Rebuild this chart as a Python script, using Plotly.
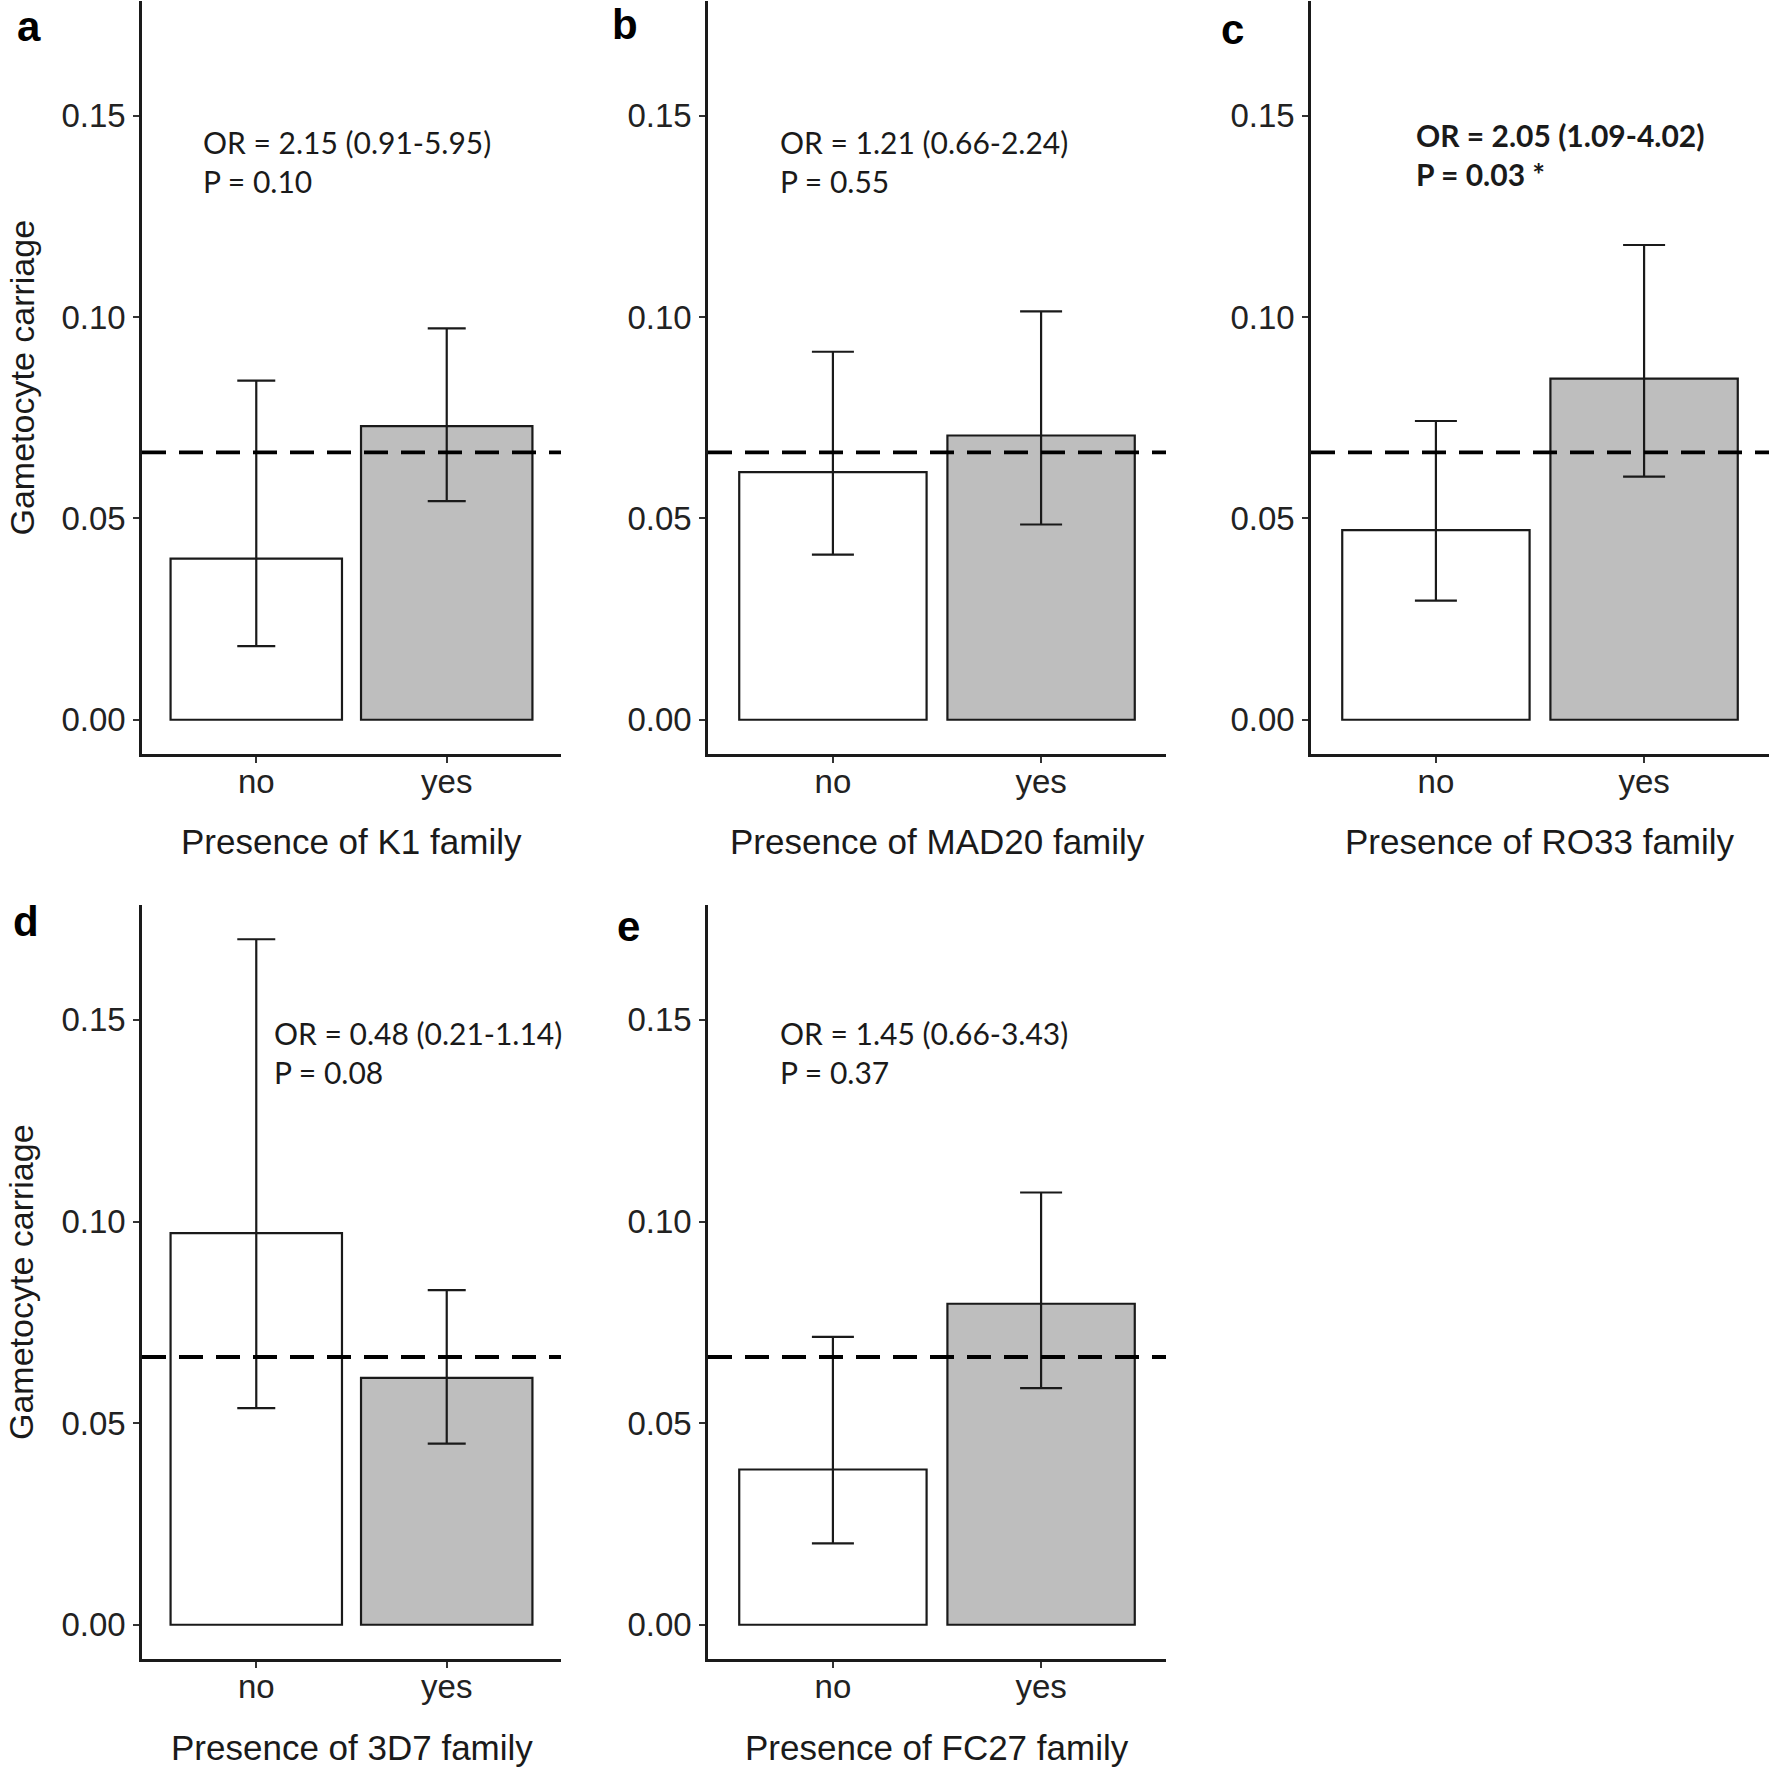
import plotly.graph_objects as go

# ---------------- data ----------------
families = ["K1", "MAD20", "RO33", "3D7", "FC27"]
panel_labels = ["a", "b", "c", "d", "e"]
categories = ["no", "yes"]
mean_no = [0.0400, 0.0615, 0.0471, 0.0971, 0.0385]
mean_yes = [0.0729, 0.0706, 0.0847, 0.0612, 0.0796]
upper_no = [0.0842, 0.0914, 0.0742, 0.1700, 0.0714]
lower_no = [0.0183, 0.0410, 0.0296, 0.0537, 0.0202]
upper_yes = [0.0972, 0.1014, 0.1179, 0.0830, 0.1072]
lower_yes = [0.0543, 0.0485, 0.0604, 0.0449, 0.0587]
overall_rate = 0.0664
or_text = ["OR = 2.15 (0.91-5.95)", "OR = 1.21 (0.66-2.24)", "OR = 2.05 (1.09-4.02)",
           "OR = 0.48 (0.21-1.14)", "OR = 1.45 (0.66-3.43)"]
p_text = ["P = 0.10", "P = 0.55", "P = 0.03 *", "P = 0.08", "P = 0.37"]
significant = [False, False, True, False, False]
# annotation anchor (data coords: category index, value)
ann_x = [-0.29, -0.264, -0.105, 0.082, -0.264]
ann_y = [0.1386, 0.1386, 0.1403, 0.1420, 0.1420]
y_ticks = [0.0, 0.05, 0.10, 0.15]
y_ticktext = ["0.00", "0.05", "0.10", "0.15"]
y_range = [-0.0085, 0.1785]

# ---------------- layout geometry (screen pixels) ----------------
W, H = 1770, 1772
px_x = [(142, 561), (708, 1166), (1311, 1769), (142, 561), (708, 1166)]
px_y = [(1, 754), (1, 754), (1, 754), (905, 1659), (905, 1659)]
cap_px = [19, 21, 21, 19, 21]
label_pos = [(29, 26), (625, 25), (1232, 29), (26, 921), (628, 926)]

def fx(p):
    return min(max(p / W, 0), 1)

def fy(p):
    return min(max(1 - p / H, 0), 1)

FONT = "Liberation Sans, Arial, sans-serif"
ANN_FONT = "Lato, Open Sans, sans-serif"
LINE = "#1a1a1a"
TICKC = "#222222"

fig = go.Figure()
annotations = []
shapes = []

for i, fam in enumerate(families):
    ax = "" if i == 0 else str(i + 1)
    xa, ya = "x" + ax, "y" + ax
    means = [mean_no[i], mean_yes[i]]
    ups = [upper_no[i] - mean_no[i], upper_yes[i] - mean_yes[i]]
    downs = [mean_no[i] - lower_no[i], mean_yes[i] - lower_yes[i]]
    fig.add_trace(go.Bar(
        x=categories, y=means, width=0.9, xaxis=xa, yaxis=ya,
        marker=dict(color=["#ffffff", "#bebebe"], line=dict(color=LINE, width=2.2)),
        error_y=dict(type="data", symmetric=False, array=ups, arrayminus=downs,
                     color=LINE, thickness=2.2, width=cap_px[i]),
        showlegend=False, hoverinfo="skip",
    ))
    x0, x1 = px_x[i]
    y0, y1 = px_y[i]
    fig.layout["xaxis" + ax] = dict(
        domain=[fx(x0), fx(x1)], anchor=ya, type="category",
        range=[-0.6, 1.6], showline=True, linecolor=LINE, linewidth=2.5,
        ticks="outside", ticklen=6, tickwidth=2, tickcolor="#333333",
        ticklabelstandoff=-9,
        tickfont=dict(family=FONT, size=33, color=TICKC),
        showgrid=False, zeroline=False, fixedrange=True,
    )
    fig.layout["yaxis" + ax] = dict(
        domain=[fy(y1), fy(y0)], anchor=xa, range=y_range,
        tickvals=y_ticks, ticktext=y_ticktext,
        showline=True, linecolor=LINE, linewidth=2.5,
        ticks="outside", ticklen=6, tickwidth=2, tickcolor="#333333",
        ticklabelstandoff=1,
        tickfont=dict(family=FONT, size=33, color=TICKC),
        showgrid=False, zeroline=False, fixedrange=True,
    )
    # overall dashed reference line
    shapes.append(dict(type="line", xref=xa + " domain", yref=ya,
                       x0=0, x1=1, y0=overall_rate, y1=overall_rate,
                       line=dict(color="#000000", width=3.8, dash="24px,13px"),
                       layer="above"))
    # OR / P annotation
    txt = or_text[i] + "<br>" + p_text[i]
    if significant[i]:
        txt = "<b>" + or_text[i] + "</b><br><b>" + p_text[i] + "</b>"
    annotations.append(dict(xref=xa, yref=ya, x=ann_x[i], y=ann_y[i], text=txt,
                            showarrow=False, xanchor="left", yanchor="middle", align="left",
                            font=dict(family=ANN_FONT, size=30, color="#1a1a1a")))
    # x-axis title
    annotations.append(dict(xref="paper", yref="paper", x=fx((x0 + x1) / 2), y=fy(y1 + 88),
                            text="Presence of " + fam + " family", showarrow=False,
                            xanchor="center", yanchor="middle",
                            font=dict(family=FONT, size=35, color="#1a1a1a")))
    # panel label
    lx, ly = label_pos[i]
    annotations.append(dict(xref="paper", yref="paper", x=fx(lx), y=fy(ly),
                            text="<b>" + panel_labels[i] + "</b>", showarrow=False,
                            xanchor="center", yanchor="middle",
                            font=dict(family=FONT, size=42, color="#000000")))
    # y-axis title for left column
    if x0 == 142:
        annotations.append(dict(xref="paper", yref="paper", x=fx(21), y=fy((y0 + y1) / 2),
                                text="Gametocyte carriage", textangle=-90, showarrow=False,
                                xanchor="center", yanchor="middle", borderpad=0,
                                font=dict(family=FONT, size=34, color="#1a1a1a")))

fig.update_layout(
    width=W, height=H, margin=dict(l=0, r=0, t=0, b=0),
    paper_bgcolor="white", plot_bgcolor="white",
    annotations=annotations, shapes=shapes, showlegend=False,
)

fig.write_html("out.html", config={"displayModeBar": False},
               post_script="document.body.style.margin='0px';document.body.style.overflow='hidden';")
